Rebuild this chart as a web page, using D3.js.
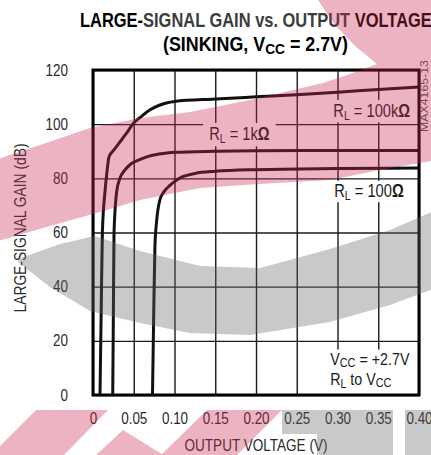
<!DOCTYPE html>
<html><head><meta charset="utf-8">
<script src="https://cdn.jsdelivr.net/npm/d3@7"></script>
<style>html,body{margin:0;padding:0;background:#fff;overflow:hidden}svg{display:block}</style>
</head><body><svg id="c" width="431" height="455"></svg>
<script>
// ---------- data ----------
const xTicks = [0, 0.05, 0.10, 0.15, 0.20, 0.25, 0.30, 0.35, 0.40];
const xTickLabels = ["0", "0.05", "0.10", "0.15", "0.20", "0.25", "0.30", "0.35", "0.40"];
const yTicks = [0, 20, 40, 60, 80, 100, 120];
const yTickLabels = ["0", "20", "40", "60", "80", "100", "120"];

// output voltage (V), gain (dB)
const rl100k = [[0.0086,0],[0.0100,30],[0.0115,60],[0.0147,75],[0.0170,82],[0.0197,88],[0.025,90.2],[0.032,93],[0.040,96.2],[0.050,100.4],[0.060,103],[0.070,105.3],[0.080,106.8],[0.090,107.8],[0.100,108.4],[0.150,109.3],[0.200,110.1],[0.250,110.9],[0.300,111.8],[0.350,112.8],[0.400,113.7]];
const rl1k = [[0.0242,0],[0.0250,30],[0.0258,60],[0.0290,75],[0.0330,80],[0.0390,83],[0.0460,85.2],[0.058,87],[0.070,88.3],[0.086,89.2],[0.100,89.6],[0.150,90.0],[0.200,90.2],[0.300,90.3],[0.400,90.3]];
const rl100 = [[0.0730,0],[0.0745,30],[0.0760,55],[0.0780,64],[0.0820,72],[0.0870,75],[0.0940,77.3],[0.100,78.8],[0.110,80.6],[0.125,81.8],[0.150,82.6],[0.200,83.2],[0.300,83.6],[0.400,83.8]];

const xTitle = "OUTPUT VOLTAGE (V)";
const yTitle = "LARGE-SIGNAL GAIN (dB)";
const figId = "MAX4165-13";

// ---------- setup ----------
const FONT = "'Liberation Sans','Arial',sans-serif";
const NARROW = 0.84;
const svg = d3.select("#c");
const x = d3.scaleLinear().domain([0, 0.4]).range([93, 419]);
const y = d3.scaleLinear().domain([0, 120]).range([395, 70]);
const W = x(0.4) - x(0), H = y(0) - y(120);

// condense a single-run text via textLength
function narrow(sel){
  sel.each(function(){
    const w = this.getComputedTextLength();
    d3.select(this).attr("textLength", w*NARROW).attr("lengthAdjust","spacingAndGlyphs");
  });
}
// condense a text (possibly with tspans) via a horizontal scale transform
function squeeze(t, px, py, target, pre){
  const w = t.node().getComputedTextLength();
  const f = target ? target / w : NARROW;
  t.attr("transform", `translate(${px},${py})${pre||""} scale(${f},1)`);
}

svg.append("rect").attr("width",431).attr("height",455).attr("fill","#fff");

// grid
const gx = svg.append("g").attr("transform",`translate(0,${y(0)})`)
  .call(d3.axisBottom(x).tickValues(xTicks).tickSize(-H).tickFormat(""));
gx.select(".domain").remove();
gx.selectAll("line").attr("stroke","#1a1a1a").attr("stroke-width",1.4);
const gy = svg.append("g").attr("transform",`translate(${x(0)},0)`)
  .call(d3.axisLeft(y).tickValues(yTicks).tickSize(-W).tickFormat(""));
gy.select(".domain").remove();
gy.selectAll("line").attr("stroke","#1a1a1a").attr("stroke-width",1.4);

// tick labels
const ax = svg.append("g").attr("transform",`translate(0,${y(0)})`)
  .call(d3.axisBottom(x).tickValues(xTicks).tickSize(0).tickPadding(18)
  .tickFormat((d,i)=>xTickLabels[i]));
ax.select(".domain").remove();
ax.selectAll("text").attr("font-family",FONT).attr("font-size",16).attr("fill","#2a2a2a");
narrow(ax.selectAll("text"));
const ay = svg.append("g").attr("transform",`translate(${x(0)},0)`)
  .call(d3.axisLeft(y).tickValues(yTicks).tickSize(0).tickPadding(25)
  .tickFormat((d,i)=>yTickLabels[i]));
ay.select(".domain").remove();
ay.selectAll("text").attr("font-family",FONT).attr("font-size",16).attr("fill","#2a2a2a");
narrow(ay.selectAll("text"));

// annotation labels with white boxes
const boxG = svg.append("g");
const labG = svg.append("g").attr("font-family",FONT).attr("fill","#1a1a1a");
function rlLabel(vx, vy, val){
  const t = labG.append("text").attr("font-size",17.5);
  t.append("tspan").text("R");
  t.append("tspan").attr("font-size",12.5).attr("dy",3).text("L");
  t.append("tspan").attr("dy",-3).text(" = "+val);
  t.append("tspan").attr("font-weight","bold").text("\u03A9");
  squeeze(t, x(vx), y(vy));
  return t;
}
const l100k = rlLabel(0.2948, 102.6, "100k");
const l1k = rlLabel(0.1425, 94.1, "1k");
const l100 = rlLabel(0.2960, 73.1, "100");
const vcc = labG.append("text").attr("font-size",17);
vcc.append("tspan").text("V");
vcc.append("tspan").attr("font-size",13).attr("dy",2).text("CC");
vcc.append("tspan").attr("dy",-2).text(" = +2.7V");
squeeze(vcc, x(0.291), y(11.2));
const rlv = labG.append("text").attr("font-size",17);
rlv.append("tspan").text("R");
rlv.append("tspan").attr("font-size",12.5).attr("dy",3).text("L");
rlv.append("tspan").attr("dy",-3).text(" to V");
rlv.append("tspan").attr("font-size",13).attr("dy",2).text("CC");
squeeze(rlv, x(0.291), y(3.8));

function screenBox(node){
  const r = node.getBoundingClientRect();
  const s = svg.node().getBoundingClientRect();
  return {x: r.left - s.left, y: r.top - s.top, w: r.width, h: r.height};
}
function box(t, px, pyT, pyB){
  const b = screenBox(t.node());
  boxG.append("rect").attr("x",b.x-px).attr("y",b.y-pyT).attr("width",b.w+2*px)
    .attr("height",b.h+pyT+pyB).attr("fill","#fff");
}
box(l100k, 5, 1, 0);
box(l1k, 6, 1, 1);
box(l100, 7, 0, 0);
{
  const b1 = screenBox(vcc.node());
  const x0 = b1.x - 6, y0 = b1.y;
  boxG.append("rect").attr("x",x0).attr("y",y0).attr("width",x(0.4)-x0).attr("height",y(0)-y0).attr("fill","#fff");
}

// curves
svg.append("clipPath").attr("id","pc").append("rect")
  .attr("x",x(0)).attr("y",y(120)).attr("width",W).attr("height",H);
const line = d3.line().x(d=>x(d[0])).y(d=>y(d[1])).curve(d3.curveMonotoneX);
const cg = svg.append("g").attr("clip-path","url(#pc)");
[rl100k, rl1k, rl100].forEach(s=>{
  cg.append("path").attr("d",line(s)).attr("fill","none").attr("stroke","#111")
    .attr("stroke-width",3).attr("stroke-linejoin","round");
});

// frame
svg.append("rect").attr("x",x(0)).attr("y",y(120)).attr("width",W).attr("height",H)
  .attr("fill","none").attr("stroke","#000").attr("stroke-width",3);

// titles
const t1 = svg.append("text")
  .attr("font-family",FONT).attr("font-weight","bold").attr("font-size",19.5).attr("fill","#000");
t1.append("tspan").text("LARGE-");
t1.append("tspan").attr("fill","#3c3c3c").text("SIGNAL GAIN vs. OUTPUT");
t1.append("tspan").text(" VOLTAGE");
squeeze(t1, 80, 27, 352);
const t2 = svg.append("text")
  .attr("font-family",FONT).attr("font-weight","bold").attr("font-size",19.5).attr("fill","#000");
t2.append("tspan").text("(SINKING, V");
t2.append("tspan").attr("font-size",15).attr("dy",3).text("CC");
t2.append("tspan").attr("dy",-3).text(" = 2.7V)");
squeeze(t2, 163, 51, 185);

const xt = svg.append("text").attr("text-anchor","middle")
  .attr("font-family",FONT).attr("font-size",16).attr("fill","#2a2a2a").text(xTitle);
squeeze(xt, 256, 451, 143);
const yt = svg.append("text").attr("text-anchor","middle")
  .attr("font-family",FONT).attr("font-size",16).attr("fill","#2a2a2a").text(yTitle);
squeeze(yt, 26, 228, 169, " rotate(-90)");
const fid = svg.append("text").attr("text-anchor","middle")
  .attr("font-family",FONT).attr("font-size",10).attr("fill","#555").text(figId);
squeeze(fid, 428, 96, 72, " rotate(-90)");

// ---------- background watermark (decoration, semi-transparent overlay) ----------
const wmPink = [[-5,160],[40,145],[90,128],[140,118],[190,112],[250,100],[323,83],[350,74],[377,64],[355,46],[335,25],[318,0],[436,0],[436,160],[380,170],[330,180],[260,184],[200,188],[140,200],[100,212],[50,226],[-5,242]];
const wmGray = [[18,259],[60,244],[95,236],[140,251],[200,266],[260,268],[330,249],[390,230],[436,210],[436,288],[390,305],[330,322],[250,335],[190,333],[140,323],[90,311],[50,287],[18,262]];
const wmPinkB = [
  [[36,410],[108,410],[63,456],[-10,456]],
  [[123,430],[165,456],[95,456]],
  [[207,410],[282,410],[236,456],[160,456]]
];
const wmGrayB = [
  [[282,410],[393,410],[393,456],[317,456],[317,434],[282,434]],
  [[405,410],[436,410],[436,456],[405,456]]
];
const poly = d3.line().curve(d3.curveLinearClosed);
const wm = svg.append("g").attr("pointer-events","none");
wm.append("path").attr("d",poly(wmPink)).attr("fill","rgb(200,40,80)").attr("opacity",0.35);
wm.append("path").attr("d",poly(wmGray)).attr("fill","rgb(100,100,100)").attr("opacity",0.35);
wmPinkB.forEach(p=>wm.append("path").attr("d",poly(p)).attr("fill","rgb(200,40,80)").attr("opacity",0.35));
wmGrayB.forEach(p=>wm.append("path").attr("d",poly(p)).attr("fill","rgb(100,100,100)").attr("opacity",0.35));
</script></body></html>
